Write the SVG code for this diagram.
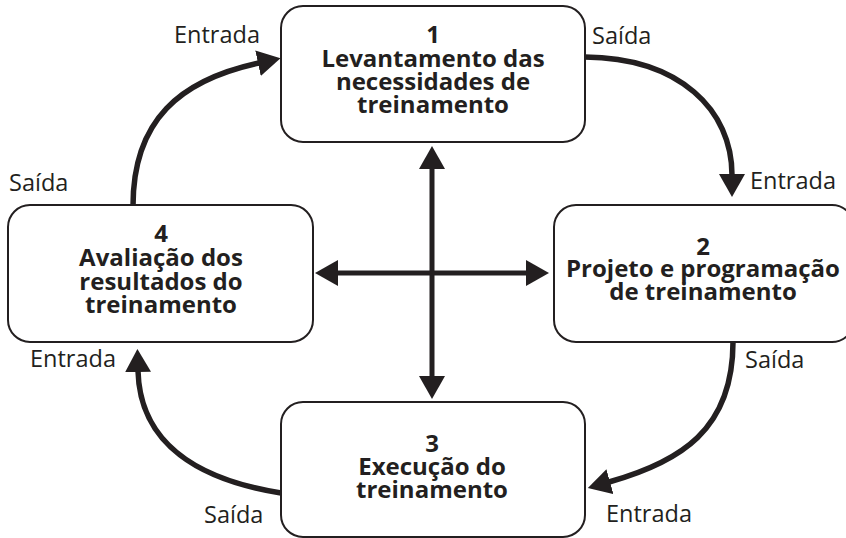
<svg xmlns="http://www.w3.org/2000/svg" width="846" height="538" viewBox="0 0 846 538">
<defs>
<style>
.box{fill:#fff;stroke:#231f20;stroke-width:2}
.t{font-family:"Open Sans","Noto Sans",sans-serif;font-weight:bold;font-size:24px;fill:#231f20;text-anchor:middle}
.l{font-family:"Open Sans","Noto Sans",sans-serif;font-size:23.5px;fill:#231f20}
.c{fill:none;stroke:#231f20;stroke-width:5.5}
.x{fill:none;stroke:#231f20;stroke-width:5}
</style>
<marker id="ah" markerUnits="userSpaceOnUse" markerWidth="24" markerHeight="28" refX="1" refY="13" orient="auto-start-reverse">
<path d="M0,0 L23,13 L0,26 z" fill="#231f20"/>
</marker>
</defs>
<rect width="846" height="538" fill="#fff"/>
<g id="connectors">
<path class="c" d="M133,206 C133,120 180,80 259,63" marker-end="url(#ah)"/>
<path class="c" d="M585,57 C680,58 732,110 732,175" marker-end="url(#ah)"/>
<path class="c" d="M733,342 C733,430 680,462 609,482" marker-end="url(#ah)"/>
<path class="c" d="M281,493 C200,480 140,445 138,371" marker-end="url(#ah)"/>
<path class="x" d="M432,168 L432,377" marker-start="url(#ah)" marker-end="url(#ah)"/>
<path class="x" d="M337,273 L527,273" marker-start="url(#ah)" marker-end="url(#ah)"/>
</g>
<g id="n1">
<rect class="box" x="281" y="6" width="304" height="136" rx="22"/>
<text class="t" x="433" y="43">1</text>
<text class="t" x="433" y="67">Levantamento das</text>
<text class="t" x="433" y="90">necessidades de</text>
<text class="t" x="433" y="113">treinamento</text>
</g>
<g id="n2">
<rect class="box" x="554" y="205" width="300" height="137" rx="22"/>
<text class="t" x="703" y="255">2</text>
<text class="t" x="703" y="277">Projeto e programação</text>
<text class="t" x="703" y="300">de treinamento</text>
</g>
<g id="n3">
<rect class="box" x="281" y="402" width="304" height="135" rx="22"/>
<text class="t" x="432" y="452">3</text>
<text class="t" x="432" y="475">Execução do</text>
<text class="t" x="432" y="498">treinamento</text>
</g>
<g id="n4">
<rect class="box" x="8" y="205" width="305" height="137" rx="22"/>
<text class="t" x="161" y="242">4</text>
<text class="t" x="161" y="266">Avaliação dos</text>
<text class="t" x="161" y="290">resultados do</text>
<text class="t" x="161" y="313">treinamento</text>
</g>
<g id="labels">
<text class="l" x="174" y="43">Entrada</text>
<text class="l" x="592" y="44">Saída</text>
<text class="l" x="9" y="191">Saída</text>
<text class="l" x="750" y="189">Entrada</text>
<text class="l" x="745" y="368">Saída</text>
<text class="l" x="606" y="522">Entrada</text>
<text class="l" x="30" y="367">Entrada</text>
<text class="l" x="204" y="523">Saída</text>
</g>
</svg>
